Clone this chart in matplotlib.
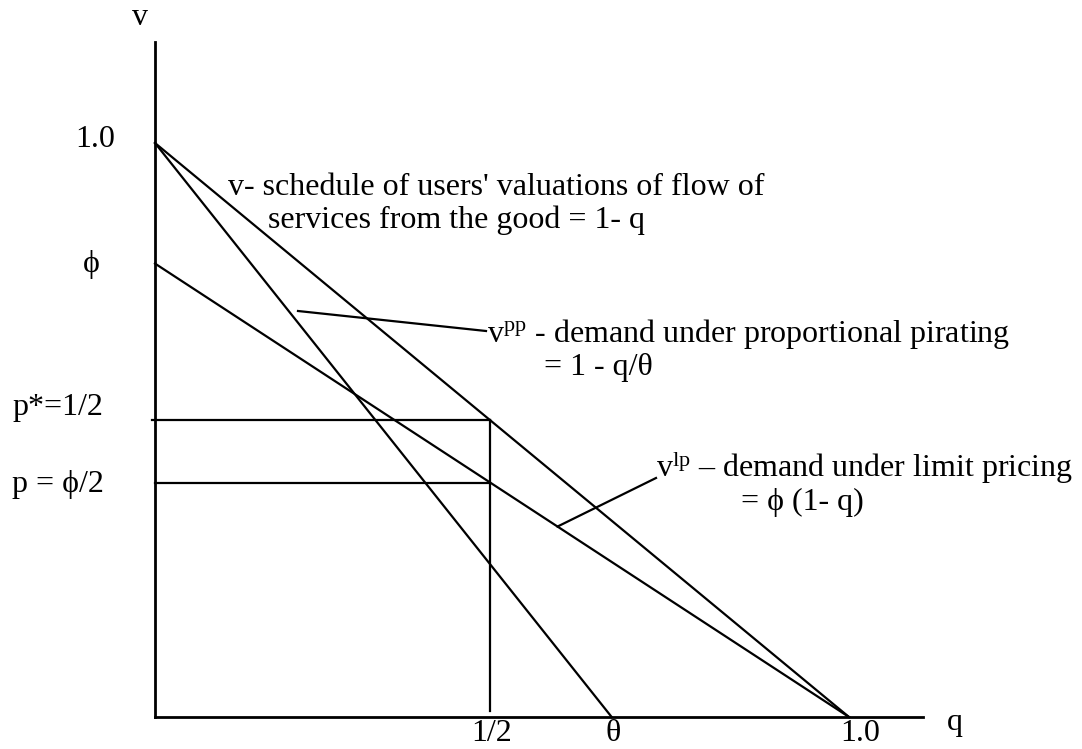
import matplotlib
matplotlib.use("Agg")
import matplotlib.pyplot as plt

plt.rcParams['font.family'] = ['Liberation Serif', 'DejaVu Serif']
plt.rcParams['mathtext.fontset'] = 'custom'
plt.rcParams['mathtext.rm'] = 'Liberation Serif'
plt.rcParams['mathtext.it'] = 'Liberation Serif:italic'

# values (schematic diagram)
phi = 0.79          # intercept of limit-pricing demand
theta = 0.658       # intercept of proportional-pirating demand
q_half = 0.483      # where the "1/2" mark is drawn
q_ticks = [q_half, theta, 1.0]
q_labels = ['1/2', '\u03b8', '1.0']
v_labels = ['1.0', '\u03d5', 'p*=1/2', 'p = \u03d5/2']

# pixel frame of the original drawing
W, H = 1082, 749
X0, Y0 = 155, 717      # origin
SX, SY = 694, 574      # pixels per unit


def px(x, y):
    return (x - X0) / SX, (Y0 - y) / SY


fig = plt.figure(figsize=(W / 100, H / 100), dpi=100)
ax = fig.add_axes([0, 0, 1, 1])
ax.set_xlim(px(0, 0)[0], px(W, 0)[0])
ax.set_ylim(px(0, H)[1], px(0, 0)[1])
ax.axis('off')

lw = 1.6
k = 'black'
# axes
ax.plot([0, 0], [0, px(0, 42)[1]], color=k, lw=2.0)
ax.plot([0, px(923, 0)[0]], [0, 0], color=k, lw=2.0)

# demand schedules
ax.plot([0, 1], [1, 0], color=k, lw=lw)
ax.plot([0, theta], [1, 0], color=k, lw=lw)
ax.plot([0, 1], [phi, 0], color=k, lw=lw)

p_star = 1 - q_half
p_lp = phi * (1 - q_half)
ax.plot([px(152, 0)[0], q_half], [p_star, p_star], color=k, lw=lw)
ax.plot([0, q_half], [p_lp, p_lp], color=k, lw=lw)
ax.plot([q_half, q_half], [px(0, 711)[1], p_star], color=k, lw=lw)

fs = 23


def t(x, y, s, ha='left', va='baseline'):
    fig.text(x / W, 1 - y / H, s, ha=ha, va=va, fontsize=fs)


# axis labels
t(140, 25, 'v', ha='center')
t(955, 730, 'q', ha='center')

# v-axis labels
t(95, 147, v_labels[0], ha='center')
t(91, 272, v_labels[1], ha='center')
t(12, 415, v_labels[2])
t(12, 492, v_labels[3])

# q-axis labels
for q, lab in zip(q_ticks, q_labels):
    x = X0 + q * SX
    t(x + (11 if lab == '1.0' else 1), 741, lab, ha='center')

# annotations
t(228, 195, "v- schedule of users' valuations of flow of")
t(268, 228, 'services from the good = 1- q')

ax.plot(*zip(px(298, 311), px(486, 331)), color=k, lw=lw)
t(487, 342, r'v$^{\mathrm{pp}}$' + ' - demand under proportional pirating')
t(544, 375, '= 1 - q/\u03b8')

ax.plot([0.58, px(656, 478)[0]], [phi * 0.42, px(656, 478)[1]], color=k, lw=lw)
t(656, 477, r'v$^{\mathrm{lp}}$' + ' \u2013 demand under limit pricing')
t(741, 510, '= \u03d5 (1- q)')

fig.savefig('out.png', dpi=100)
